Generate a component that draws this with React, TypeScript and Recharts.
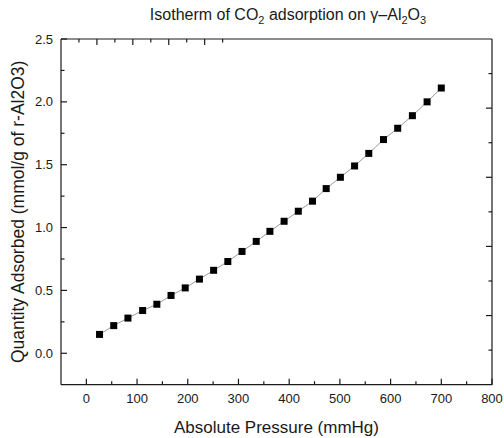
import React from "react";
import { ComposedChart, Line, XAxis, YAxis, Label } from "recharts";

// CO2 adsorption isotherm on gamma-alumina
const pressure = [26, 54, 82, 111, 139, 167, 195, 223, 251, 279, 307, 335, 362, 390, 418, 446, 473, 501, 529, 557, 586, 614, 643, 672, 700];
const adsorbed = [0.15, 0.22, 0.28, 0.34, 0.39, 0.46, 0.52, 0.59, 0.66, 0.73, 0.81, 0.89, 0.97, 1.05, 1.13, 1.21, 1.31, 1.4, 1.49, 1.59, 1.7, 1.79, 1.89, 2.0, 2.11];

const xTicks = [0, 50, 100, 150, 200, 250, 300, 350, 400, 450, 500, 550, 600, 650, 700, 750, 800];
const yTicks = [0, 0.25, 0.5, 0.75, 1, 1.25, 1.5, 1.75, 2, 2.25, 2.5];
const frameTicks = [1, 2, 3, 4, 5, 6, 7, 8, 9];

const rows = pressure.map((p, i) => ({ p, q: adsorbed[i] }));

const FONT = '"Liberation Sans", Arial, sans-serif';
const INK = "#1a1a1a";
const MAJOR = 6;
const MINOR = 3.5;
const X_MARGIN = 9;
const Y_MARGIN = 8;

const BottomTick = (props: any) => {
  const { x, y, payload } = props;
  const v = payload.value as number;
  const major = v % 100 === 0;
  const axisY = y - X_MARGIN;
  return (
    <g>
      <line x1={x} x2={x} y1={axisY} y2={axisY - (major ? MAJOR : MINOR)} stroke={INK} strokeWidth={1.2} />
      {major && (
        <text x={x} y={y} dy="0.71em" textAnchor="middle" fontSize={13} fontFamily={FONT} fill={INK}>
          {v}
        </text>
      )}
    </g>
  );
};

const LeftTick = (props: any) => {
  const { x, y, payload } = props;
  const v = payload.value as number;
  const major = Math.abs(v * 2 - Math.round(v * 2)) < 1e-9;
  const axisX = x + Y_MARGIN;
  return (
    <g>
      <line x1={axisX} x2={axisX + (major ? MAJOR : MINOR)} y1={y} y2={y} stroke={INK} strokeWidth={1.2} />
      {major && (
        <text x={x} y={y} dy="0.355em" textAnchor="end" fontSize={13} fontFamily={FONT} fill={INK}>
          {v.toFixed(1)}
        </text>
      )}
    </g>
  );
};

const TopTick = (props: any) => {
  const { x, y, payload } = props;
  const major = payload.value % 2 === 0;
  return <line x1={x} x2={x} y1={y} y2={y + (major ? MAJOR : MINOR)} stroke={INK} strokeWidth={1.2} />;
};

const RightTick = (props: any) => {
  const { x, y, payload } = props;
  const major = payload.value % 2 === 0;
  return <line x1={x} x2={x - (major ? MAJOR : MINOR)} y1={y} y2={y} stroke={INK} strokeWidth={1.2} />;
};

const SquareDot = (props: any) => {
  const { cx, cy, index } = props;
  if (cx == null || cy == null) return <g key={index} />;
  return <rect key={index} x={cx - 3.5} y={cy - 3.5} width={7} height={7} fill="#000" />;
};

const XTitle = (props: any) => {
  const vb = props.viewBox;
  return (
    <text x={vb.x + vb.width / 2} y={vb.y + 48} textAnchor="middle" fontSize={17} fontFamily={FONT} fill={INK}>
      Absolute Pressure (mmHg)
    </text>
  );
};

const YTitle = (props: any) => {
  const vb = props.viewBox;
  const cx = vb.x + 18;
  const cy = vb.y + vb.height / 2;
  return (
    <text
      x={cx}
      y={cy}
      dy="0.35em"
      transform={`rotate(-90 ${cx} ${cy})`}
      textAnchor="middle"
      fontSize={17.5}
      fontFamily={FONT}
      fill={INK}
    >
      Quantity Adsorbed (mmol/g of r-Al2O3)
    </text>
  );
};

export default function App() {
  return (
    <div style={{ position: "absolute", left: 0, top: 0, width: 504, height: 438, background: "#fff" }}>
      <svg width={504} height={30} style={{ position: "absolute", left: 0, top: 0 }}>
        <text x={288} y={20} textAnchor="middle" fontSize={16} fontFamily={FONT} fill={INK}>
          Isotherm of CO
          <tspan fontSize={11} dy={4}>2</tspan>
          <tspan dy={-4}> adsorption on γ–Al</tspan>
          <tspan fontSize={11} dy={4}>2</tspan>
          <tspan dy={-4}>O</tspan>
          <tspan fontSize={11} dy={4}>3</tspan>
        </text>
      </svg>
      <ComposedChart
        width={504}
        height={438}
        data={rows}
        margin={{ top: 38, right: 11, bottom: 0, left: 0 }}
      >
        <XAxis
          dataKey="p"
          type="number"
          domain={[-50, 800]}
          ticks={xTicks}
          interval={0}
          height={53.3}
          tickSize={0}
          tickMargin={X_MARGIN}
          tickLine={false}
          axisLine={{ stroke: INK, strokeWidth: 1.2 }}
          tick={<BottomTick />}
          allowDataOverflow
        >
          <Label content={<XTitle />} />
        </XAxis>
        <XAxis
          xAxisId="top"
          orientation="top"
          type="number"
          domain={[0, 10]}
          ticks={frameTicks}
          interval={0}
          height={1}
          tickSize={0}
          tickMargin={0}
          tickLine={false}
          axisLine={{ stroke: INK, strokeWidth: 1.2 }}
          tick={<TopTick />}
          allowDataOverflow
        />
        <YAxis
          dataKey="q"
          type="number"
          domain={[-0.25, 2.5]}
          ticks={yTicks}
          interval={0}
          width={61}
          tickSize={0}
          tickMargin={Y_MARGIN}
          tickLine={false}
          axisLine={{ stroke: INK, strokeWidth: 1.2 }}
          tick={<LeftTick />}
          allowDataOverflow
        >
          <Label content={<YTitle />} />
        </YAxis>
        <YAxis
          yAxisId="right"
          orientation="right"
          type="number"
          domain={[0, 10]}
          ticks={frameTicks}
          interval={0}
          width={1}
          tickSize={0}
          tickMargin={0}
          tickLine={false}
          axisLine={{ stroke: INK, strokeWidth: 1.2 }}
          tick={<RightTick />}
          allowDataOverflow
        />
        <Line
          dataKey="q"
          type="linear"
          stroke="#9a9a9a"
          strokeWidth={1}
          dot={<SquareDot />}
          activeDot={false}
          isAnimationActive={false}
        />
      </ComposedChart>
    </div>
  );
}
